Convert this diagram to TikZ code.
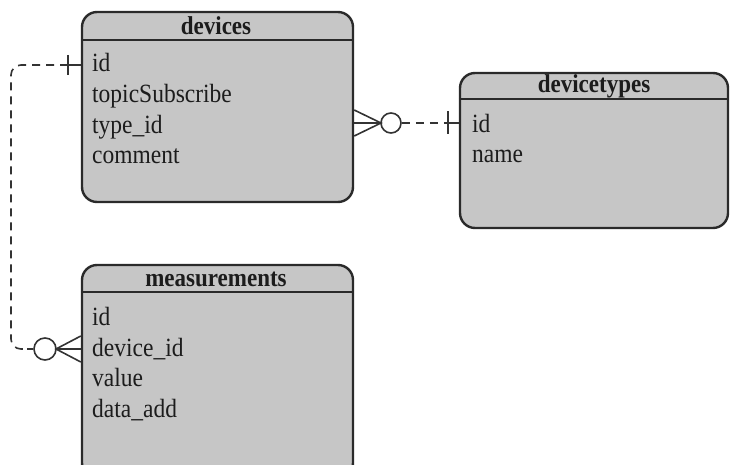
\documentclass[tikz,border=0pt]{standalone}
\usepackage{graphicx}
\usepackage{fontspec}
\setmainfont{Liberation Serif}
\usetikzlibrary{calc}
\definecolor{boxfill}{HTML}{C6C6C6}
\definecolor{boxline}{HTML}{2A2A2A}
\definecolor{txt}{HTML}{1C1C1C}
\definecolor{relline}{HTML}{333333}
\newcommand\tallt[1]{\scalebox{1}[1.12]{#1}}
\tikzset{
  entity/.style={draw=boxline, fill=boxfill, line width=2.4pt, rounded corners=15pt, rectangle, inner sep=0pt},
  headline/.style={draw=boxline, line width=2.6pt},
  etitle/.style={font=\fontsize{23}{23}\selectfont\bfseries, text=txt, inner sep=0pt},
  field/.style={font=\fontsize{23.5}{23.5}\selectfont, text=txt, anchor=base west, inner sep=0pt},
  rel/.style={line width=1.6pt, draw=relline},
  reldash/.style={rel, dash pattern=on 8pt off 6pt},
  ringnode/.style={circle, draw=relline, line width=1.6pt, fill=white, inner sep=0pt},
}
\begin{document}
\begin{tikzpicture}[x=1pt,y=-1pt]
\useasboundingbox (0,0) rectangle (730,465);
\clip (0,0) rectangle (730,465);

% devices
\node[entity, minimum width=271pt, minimum height=190pt] (devices) at (217.5,107) {};
\draw[headline] (devices.west |- 0,40) -- (devices.east |- 0,40);
\node[etitle] (devT) at (216,26) {\tallt{devices}};
\node[field] (devid) at (92,72) {\tallt{id}};
\node[field] (devtopic) at (92,103) {\tallt{topicSubscribe}};
\node[field] (devtype) at (92,134) {\tallt{type\_id}};
\node[field] (devcomment) at (92,164) {\tallt{comment}};

% devicetypes
\node[entity, minimum width=268pt, minimum height=155pt] (devicetypes) at (594,150.5) {};
\draw[headline] (devicetypes.west |- 0,99) -- (devicetypes.east |- 0,99);
\node[etitle] (dtT) at (594,86) {\tallt{devicetypes}};
\node[field] (dtid) at (472,133) {\tallt{id}};
\node[field] (dtname) at (472,163) {\tallt{name}};

% measurements
\node[entity, minimum width=271pt, minimum height=213pt] (measurements) at (217.5,371.5) {};
\draw[headline] (measurements.west |- 0,292) -- (measurements.east |- 0,292);
\node[etitle] (mT) at (216,279) {\tallt{measurements}};
\node[field] (mid) at (92,325) {\tallt{id}};
\node[field] (mdev) at (92,356) {\tallt{device\_id}};
\node[field] (mval) at (92,386) {\tallt{value}};
\node[field] (mdata) at (92,417) {\tallt{data\_add}};

% relation devices (many) -- devicetypes (one)
\coordinate (r1a) at (devices.east |- 0,123);
\coordinate (r1tip) at (381,123);
\coordinate (r1bar) at (448,123);
\coordinate (r1b) at (devicetypes.west |- 0,123);
\node[ringnode, minimum size=20pt] (ring1) at (391,123) {};
\draw[rel] ($(r1a)+(0,-13)$) -- (r1tip) -- ($(r1a)+(0,13)$);
\draw[rel] (r1a) -- (r1tip);
\draw[reldash] (ring1.east) -- (r1bar);
\draw[rel] ($(r1bar)+(0,-11.5)$) -- ($(r1bar)+(0,11.5)$);
\draw[rel] (r1bar) -- (r1b);

% relation devices (one) -- measurements (many)
\coordinate (r2a) at (devices.west |- 0,65);
\coordinate (r2bar) at (68,65);
\coordinate (r2b) at (measurements.west |- 0,349);
\coordinate (r2tip) at (56,349);
\coordinate (r2c) at (27,349);
\node[ringnode, minimum size=22pt] (ring2) at (45,349) {};
\draw[rel] (r2a) -- (r2bar);
\draw[rel] ($(r2bar)+(0,-10)$) -- ($(r2bar)+(0,10)$);
\draw[reldash, rounded corners=10pt] (r2bar) -- (11,65) -- (11,349) -- (r2c);
\draw[rel] (r2c) -- (ring2.west);
\draw[rel] ($(r2b)+(0,-13)$) -- (r2tip) -- ($(r2b)+(0,13)$);
\draw[rel] (r2tip) -- (r2b);
\end{tikzpicture}
\end{document}
